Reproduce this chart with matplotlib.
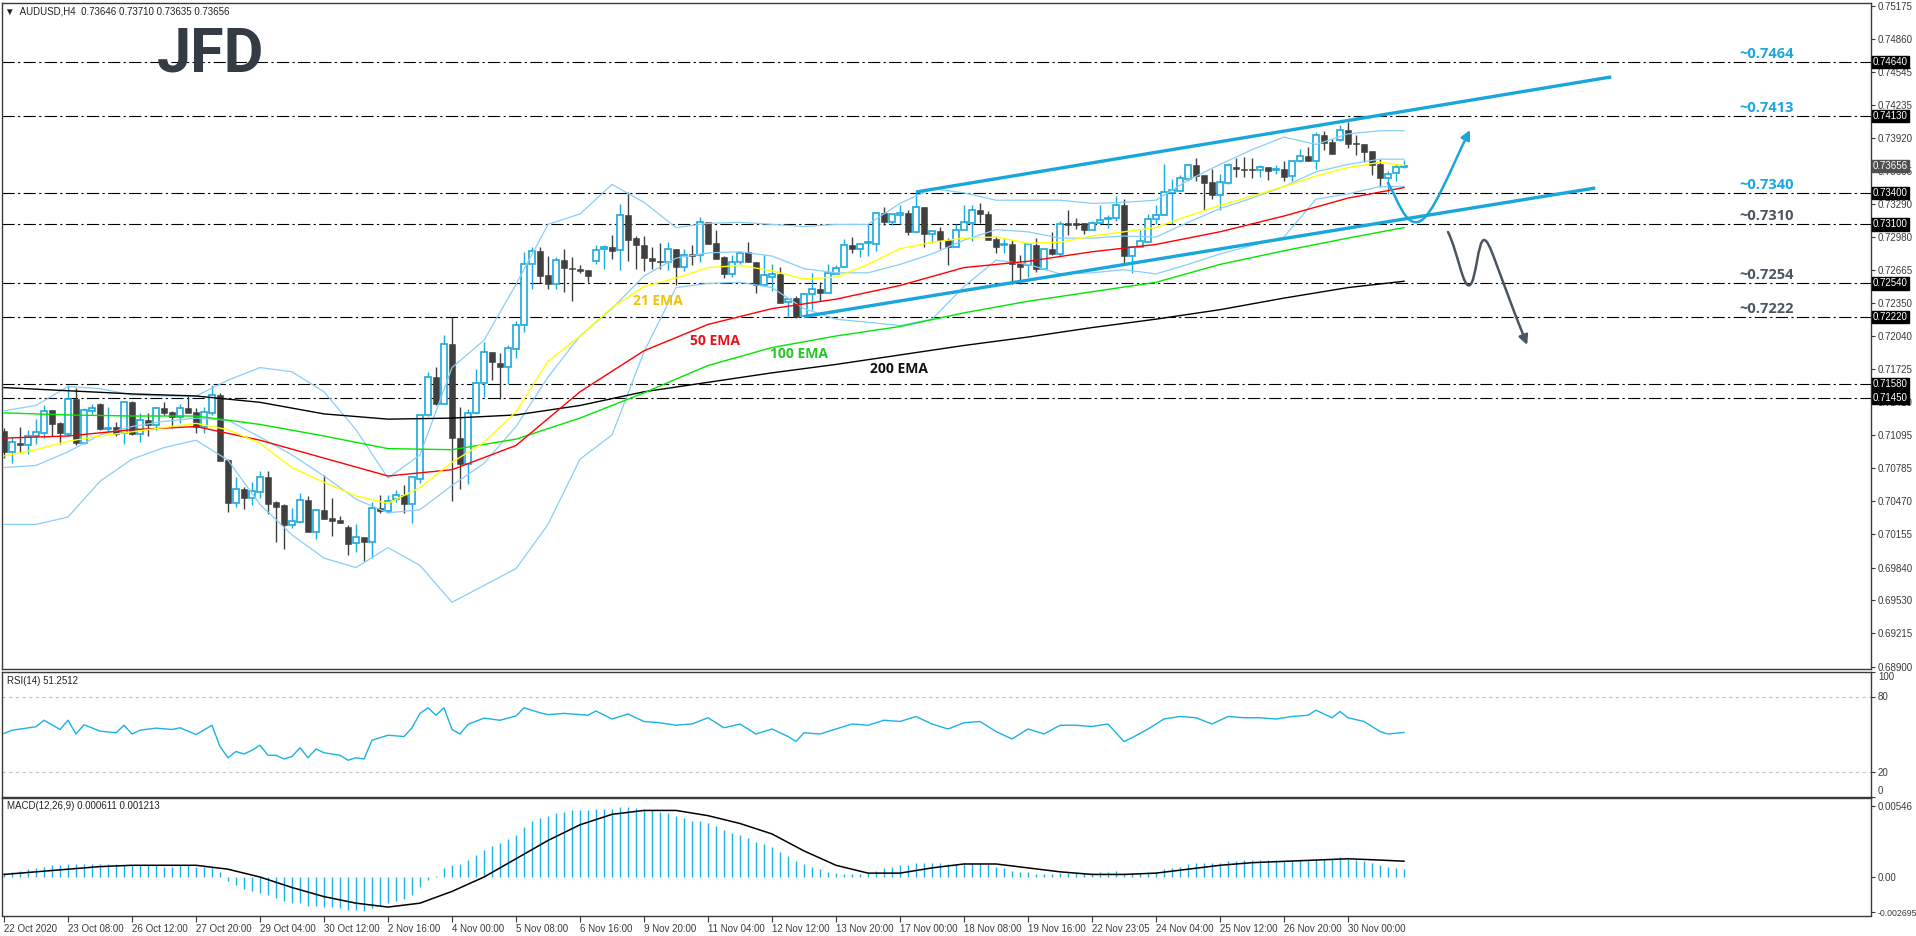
import matplotlib
matplotlib.use("Agg")
import matplotlib.pyplot as plt
from matplotlib.patches import Rectangle, FancyArrowPatch
from matplotlib.path import Path

plt.rcParams["font.family"] = ["Liberation Sans", "DejaVu Sans"]

W, H = 1916, 936

# ---- AUDUSD H4 candles (22 Oct - 30 Nov 2020) ----
opens = [0.7114, 0.7094, 0.7102, 0.7100, 0.7109, 0.7112, 0.7134, 0.7121, 0.7111, 0.7144,
         0.7102, 0.7133, 0.7139, 0.7116, 0.7118, 0.7112, 0.7141, 0.7111, 0.7124, 0.7119,
         0.7136, 0.7132, 0.7127, 0.7136, 0.7132, 0.7118, 0.7131, 0.7148, 0.7086, 0.7045,
         0.7059, 0.7050, 0.7056, 0.7070, 0.7046, 0.7043, 0.7024, 0.7027, 0.7048, 0.7018,
         0.7039, 0.7031, 0.7029, 0.7023, 0.7007, 0.7013, 0.7008, 0.7041, 0.7038, 0.7049,
         0.7053, 0.7044, 0.7068, 0.7129, 0.7165, 0.7139, 0.7196, 0.7107, 0.7082, 0.7131,
         0.7159, 0.7189, 0.7178, 0.7175, 0.7192, 0.7214, 0.7272, 0.7285, 0.7262, 0.7253,
         0.7276, 0.7269, 0.7268, 0.7267, 0.7275, 0.7287, 0.7289, 0.7286, 0.7319, 0.7297,
         0.7290, 0.7278, 0.7275, 0.7274, 0.7287, 0.7270, 0.7282, 0.7281, 0.7312, 0.7292,
         0.7279, 0.7263, 0.7274, 0.7284, 0.7274, 0.7252, 0.7260, 0.7263, 0.7236, 0.7240,
         0.7223, 0.7244, 0.7249, 0.7245, 0.7263, 0.7270, 0.7290, 0.7287, 0.7292, 0.7291,
         0.7321, 0.7312, 0.7319, 0.7321, 0.7303, 0.7327, 0.7301, 0.7304, 0.7295, 0.7289,
         0.7305, 0.7311, 0.7324, 0.7320, 0.7296, 0.7290, 0.7291, 0.7273, 0.7271, 0.7290,
         0.7268, 0.7287, 0.7282, 0.7311, 0.7311, 0.7311, 0.7305, 0.7311, 0.7315, 0.7316,
         0.7328, 0.7280, 0.7289, 0.7293, 0.7315, 0.7319, 0.7340, 0.7342, 0.7353, 0.7366,
         0.7357, 0.7350, 0.7338, 0.7349, 0.7365, 0.7363, 0.7363, 0.7362, 0.7365, 0.7362,
         0.7363, 0.7356, 0.7370, 0.7375, 0.7370, 0.7395, 0.7388, 0.7390, 0.7400, 0.7387,
         0.7386, 0.7380, 0.7367, 0.7354, 0.7359, 0.73646]
highs = [0.7117, 0.7108, 0.7118, 0.7115, 0.7125, 0.7138, 0.7134, 0.7122, 0.7157, 0.7155,
         0.7136, 0.7139, 0.7140, 0.7137, 0.7122, 0.7141, 0.7142, 0.7131, 0.7131, 0.7137,
         0.7141, 0.7133, 0.7139, 0.7147, 0.7136, 0.7137, 0.7157, 0.7150, 0.7087, 0.7070,
         0.7061, 0.7065, 0.7076, 0.7076, 0.7047, 0.7044, 0.7041, 0.7055, 0.7052, 0.7039,
         0.7072, 0.7050, 0.7033, 0.7024, 0.7025, 0.7013, 0.7046, 0.7053, 0.7053, 0.7058,
         0.7062, 0.7070, 0.7129, 0.7170, 0.7175, 0.7205, 0.7222, 0.7137, 0.7135, 0.7173,
         0.7198, 0.7189, 0.7188, 0.7195, 0.7218, 0.7284, 0.7289, 0.7289, 0.7280, 0.7279,
         0.7287, 0.7279, 0.7271, 0.7267, 0.7290, 0.7290, 0.7300, 0.7329, 0.7341, 0.7299,
         0.7299, 0.7289, 0.7292, 0.7293, 0.7287, 0.7287, 0.7290, 0.7317, 0.7312, 0.7305,
         0.7280, 0.7281, 0.7284, 0.7293, 0.7274, 0.7281, 0.7272, 0.7270, 0.7239, 0.7242,
         0.7245, 0.7264, 0.7255, 0.7272, 0.7271, 0.7296, 0.7298, 0.7291, 0.7310, 0.7321,
         0.7327, 0.7320, 0.7328, 0.7324, 0.7341, 0.7327, 0.7304, 0.7308, 0.7297, 0.7310,
         0.7328, 0.7328, 0.7330, 0.7323, 0.7299, 0.7297, 0.7295, 0.7281, 0.7291, 0.7297,
         0.7287, 0.7303, 0.7313, 0.7324, 0.7316, 0.7311, 0.7313, 0.7328, 0.7319, 0.7337,
         0.7334, 0.7289, 0.7305, 0.7320, 0.7328, 0.7367, 0.7353, 0.7357, 0.7366, 0.7373,
         0.7357, 0.7363, 0.7358, 0.7368, 0.7373, 0.7374, 0.7373, 0.7366, 0.7365, 0.7366,
         0.7370, 0.7370, 0.7382, 0.7384, 0.7398, 0.7399, 0.7391, 0.7404, 0.7407, 0.7395,
         0.7386, 0.7380, 0.7372, 0.7361, 0.7367, 0.73710]
lows = [0.7088, 0.7083, 0.7093, 0.7092, 0.7101, 0.7107, 0.7109, 0.7101, 0.7109, 0.7100,
        0.7101, 0.7130, 0.7115, 0.7113, 0.7109, 0.7101, 0.7110, 0.7103, 0.7109, 0.7115,
        0.7129, 0.7117, 0.7121, 0.7131, 0.7112, 0.7112, 0.7129, 0.7085, 0.7037, 0.7042,
        0.7040, 0.7043, 0.7050, 0.7035, 0.7008, 0.7002, 0.7022, 0.7026, 0.7018, 0.7011,
        0.7030, 0.7014, 0.7026, 0.6996, 0.6999, 0.6990, 0.6993, 0.7036, 0.7036, 0.7046,
        0.7036, 0.7026, 0.7064, 0.7128, 0.7138, 0.7139, 0.7047, 0.7059, 0.7063, 0.7130,
        0.7146, 0.7162, 0.7144, 0.7158, 0.7183, 0.7208, 0.7249, 0.7254, 0.7249, 0.7249,
        0.7246, 0.7237, 0.7264, 0.7255, 0.7272, 0.7268, 0.7277, 0.7267, 0.7275, 0.7268,
        0.7266, 0.7268, 0.7268, 0.7267, 0.7252, 0.7266, 0.7271, 0.7274, 0.7291, 0.7277,
        0.7259, 0.7260, 0.7272, 0.7274, 0.7245, 0.7252, 0.7247, 0.7235, 0.7222, 0.7221,
        0.7223, 0.7229, 0.7237, 0.7245, 0.7263, 0.7270, 0.7283, 0.7279, 0.7280, 0.7285,
        0.7309, 0.7309, 0.7310, 0.7300, 0.7302, 0.7289, 0.7292, 0.7287, 0.7271, 0.7289,
        0.7305, 0.7294, 0.7311, 0.7295, 0.7283, 0.7283, 0.7253, 0.7253, 0.7260, 0.7265,
        0.7267, 0.7281, 0.7280, 0.7300, 0.7306, 0.7301, 0.7305, 0.7310, 0.7307, 0.7313,
        0.7271, 0.7264, 0.7289, 0.7293, 0.7310, 0.7319, 0.7310, 0.7342, 0.7351, 0.7351,
        0.7324, 0.7334, 0.7324, 0.7348, 0.7355, 0.7355, 0.7354, 0.7355, 0.7352, 0.7358,
        0.7351, 0.7351, 0.7369, 0.7370, 0.7363, 0.7381, 0.7377, 0.7389, 0.7383, 0.7376,
        0.7369, 0.7357, 0.7346, 0.7339, 0.7351, 0.73635]
closes = [0.7094, 0.7103, 0.7100, 0.7109, 0.7113, 0.7133, 0.7120, 0.7112, 0.7144, 0.7102,
          0.7134, 0.7136, 0.7116, 0.7117, 0.7111, 0.7141, 0.7111, 0.7124, 0.7119, 0.7136,
          0.7131, 0.7127, 0.7136, 0.7131, 0.7118, 0.7132, 0.7148, 0.7085, 0.7045, 0.7059,
          0.7050, 0.7057, 0.7070, 0.7044, 0.7042, 0.7024, 0.7028, 0.7048, 0.7018, 0.7039,
          0.7030, 0.7028, 0.7026, 0.7006, 0.7013, 0.7008, 0.7041, 0.7038, 0.7047, 0.7053,
          0.7044, 0.7070, 0.7129, 0.7165, 0.7139, 0.7196, 0.7107, 0.7082, 0.7131, 0.7159,
          0.7189, 0.7179, 0.7175, 0.7193, 0.7214, 0.7272, 0.7285, 0.7261, 0.7253, 0.7276,
          0.7269, 0.7268, 0.7266, 0.7261, 0.7286, 0.7289, 0.7285, 0.7319, 0.7295, 0.7290,
          0.7278, 0.7275, 0.7274, 0.7287, 0.7270, 0.7281, 0.7280, 0.7312, 0.7291, 0.7277,
          0.7263, 0.7274, 0.7283, 0.7274, 0.7252, 0.7262, 0.7263, 0.7235, 0.7239, 0.7222,
          0.7244, 0.7249, 0.7245, 0.7264, 0.7269, 0.7290, 0.7287, 0.7291, 0.7293, 0.7321,
          0.7312, 0.7320, 0.7321, 0.7303, 0.7327, 0.7301, 0.7304, 0.7295, 0.7289, 0.7305,
          0.7312, 0.7324, 0.7320, 0.7295, 0.7289, 0.7291, 0.7272, 0.7270, 0.7291, 0.7268,
          0.7287, 0.7282, 0.7310, 0.7309, 0.7309, 0.7305, 0.7311, 0.7314, 0.7316, 0.7328,
          0.7280, 0.7289, 0.7294, 0.7315, 0.7319, 0.7341, 0.7343, 0.7354, 0.7366, 0.7356,
          0.7349, 0.7338, 0.7350, 0.7366, 0.7363, 0.7362, 0.7362, 0.7365, 0.7361, 0.7363,
          0.7355, 0.7370, 0.7375, 0.7370, 0.7395, 0.7387, 0.7377, 0.7400, 0.7386, 0.7386,
          0.7379, 0.7366, 0.7354, 0.7358, 0.7365, 0.73656]

# ---- moving averages, sampled every 8 bars ----
ema_bars = [0, 8, 16, 24, 32, 40, 48, 56, 64, 72, 80, 88, 96, 104, 112, 120, 128, 136,
            144, 152, 160, 168, 175]
ema200 = [0.7155, 0.7152, 0.7149, 0.7147, 0.7141, 0.7130, 0.7125, 0.7126, 0.7129, 0.7138,
          0.7151, 0.7160, 0.7169, 0.7177, 0.7186, 0.7195, 0.7203, 0.7212, 0.7220, 0.7229,
          0.7240, 0.7250, 0.7256]
ema100 = [0.7131, 0.7129, 0.7128, 0.7128, 0.7120, 0.7109, 0.7097, 0.7096, 0.7106, 0.7126,
          0.7150, 0.7176, 0.7193, 0.7204, 0.7213, 0.7226, 0.7237, 0.7246, 0.7255, 0.7272,
          0.7285, 0.7297, 0.7307]
ema50 = [0.7107, 0.7109, 0.7115, 0.7118, 0.7105, 0.7088, 0.7071, 0.7077, 0.7100, 0.7151,
         0.7190, 0.7215, 0.7230, 0.7239, 0.7252, 0.7269, 0.7275, 0.7284, 0.7291, 0.7303,
         0.7318, 0.7335, 0.7345]

# ---- 21 EMA and Bollinger bands, sampled every 4 bars ----
fine_bars = list(range(0, 173, 4)) + [175]
ema21 = [0.7090, 0.7096, 0.7104, 0.7109, 0.7113, 0.7117, 0.7121, 0.7115, 0.7102, 0.7079,
         0.7065, 0.7052, 0.7045, 0.7060, 0.7084, 0.7103, 0.7132, 0.7180, 0.7204, 0.7231,
         0.7251, 0.7259, 0.7269, 0.7271, 0.7266, 0.7258, 0.7260, 0.7272, 0.7287, 0.7293,
         0.7297, 0.7298, 0.7292, 0.7293, 0.7299, 0.7303, 0.7307, 0.7318, 0.7328, 0.7337,
         0.7346, 0.7356, 0.7364, 0.7369, 0.7366]
bb_upper = [0.7133, 0.7138, 0.7156, 0.7154, 0.7148, 0.7147, 0.7147, 0.7162, 0.7174, 0.7170,
            0.7151, 0.7115, 0.7069, 0.7091, 0.7174, 0.7200, 0.7253, 0.7310, 0.7320, 0.7348,
            0.7331, 0.7307, 0.7311, 0.7312, 0.7310, 0.7308, 0.7310, 0.7310, 0.7330, 0.7344,
            0.7340, 0.7333, 0.7333, 0.7333, 0.7330, 0.7331, 0.7333, 0.7352, 0.7367, 0.7381,
            0.7393, 0.7386, 0.7396, 0.7399, 0.7399]
bb_mid = [0.7079, 0.7081, 0.7094, 0.7110, 0.7118, 0.7123, 0.7126, 0.7124, 0.7108, 0.7091,
          0.7071, 0.7049, 0.7036, 0.7039, 0.7062, 0.7083, 0.7118, 0.7165, 0.7204, 0.7230,
          0.7261, 0.7278, 0.7283, 0.7284, 0.7280, 0.7268, 0.7264, 0.7264, 0.7272, 0.7282,
          0.7295, 0.7305, 0.7303, 0.7297, 0.7297, 0.7299, 0.7298, 0.7312, 0.7325, 0.7335,
          0.7346, 0.7360, 0.7367, 0.7372, 0.7372]
bb_lower = [0.7025, 0.7025, 0.7032, 0.7066, 0.7087, 0.7098, 0.7105, 0.7086, 0.7044, 0.7015,
            0.6993, 0.6984, 0.7003, 0.6986, 0.6951, 0.6967, 0.6983, 0.7025, 0.7087, 0.7110,
            0.7189, 0.7250, 0.7254, 0.7255, 0.7250, 0.7230, 0.7220, 0.7217, 0.7214, 0.7220,
            0.7251, 0.7276, 0.7272, 0.7263, 0.7264, 0.7267, 0.7263, 0.7272, 0.7282, 0.7290,
            0.7298, 0.7334, 0.7339, 0.7346, 0.7346]

# ---- RSI(14) ----
rsi_bars = [0, 1, 4, 5, 7, 8, 9, 10, 12, 14, 15, 16, 17, 19, 21, 22, 24, 26, 27, 28,
            29, 30, 31, 32, 33, 34, 35, 36, 37, 38, 39, 40, 41, 42, 43, 44, 45, 46, 48, 50,
            51, 52, 53, 54, 55, 56, 57, 58, 60, 62, 64, 65, 67, 68, 70, 73, 74, 76, 78, 80,
            82, 84, 86, 88, 90, 92, 94, 96, 98, 99, 100, 102, 104, 106, 108, 110, 112, 114, 116, 118,
            120, 122, 124, 126, 128, 130, 132, 134, 136, 138, 140, 141, 143, 145, 147, 149, 151, 153, 155, 157,
            159, 161, 163, 164, 166, 167, 168, 170, 172, 173, 175]
rsi_vals = [50.4, 53, 55.8, 61, 53.6, 61, 50, 57.4, 52.3, 51, 57, 50, 53, 54.7, 53.6, 55, 49.6, 57, 40, 31,
            36, 34, 37, 41, 33, 33, 30, 32, 39, 31, 38, 35, 34, 33, 29, 31, 30, 45, 49, 48,
            55, 66.5, 71, 65, 71, 53.6, 50, 57.7, 62.7, 61, 64.4, 71, 67, 65.5, 66.5, 65, 68.4, 62, 66, 60,
            59, 57, 58, 63, 55, 58, 50, 54, 48, 44, 51, 50, 54, 58, 57, 61, 60, 64, 58, 54,
            59, 60, 52, 46, 54, 50, 57, 57, 56, 58, 44, 47, 54, 62, 64, 63, 58, 64, 63, 63,
            62, 64, 65, 69, 63, 68, 63, 60, 52, 50, 51.25]

# ---- MACD(12,26,9) ----
macd_main = [0.0003, 0.0004, 0.0005, 0.0006, 0.0007, 0.0008, 0.0009, 0.0009, 0.0010, 0.0010,
             0.0010, 0.0010, 0.0010, 0.0010, 0.0010, 0.0009, 0.0009, 0.0009, 0.0009, 0.0009,
             0.0008, 0.0008, 0.0009, 0.0009, 0.0008, 0.0008, 0.0008, 0.0004, -0.0003, -0.0006,
             -0.0009, -0.0011, -0.0012, -0.0014, -0.0016, -0.0018, -0.0020, -0.0020, -0.0022, -0.0022,
             -0.0023, -0.0023, -0.0024, -0.0025, -0.0025, -0.0026, -0.0024, -0.0022, -0.0020, -0.0018,
             -0.0017, -0.0014, -0.0008, -0.0002, 0.0001, 0.0007, 0.0009, 0.0010, 0.0013, 0.0017,
             0.0021, 0.0024, 0.0026, 0.0029, 0.0032, 0.0038, 0.0043, 0.0045, 0.0047, 0.0049,
             0.0050, 0.0051, 0.0051, 0.0051, 0.0052, 0.0052, 0.0052, 0.0054, 0.0054, 0.0053,
             0.0052, 0.0051, 0.0050, 0.0049, 0.0047, 0.0045, 0.0043, 0.0043, 0.0041, 0.0039,
             0.0036, 0.0034, 0.0032, 0.0030, 0.0027, 0.0025, 0.0023, 0.0019, 0.0016, 0.0012,
             0.0010, 0.0008, 0.0006, 0.0004, 0.0003, 0.0002, 0.0002, 0.0002, 0.0003, 0.0005,
             0.0007, 0.0008, 0.0009, 0.0009, 0.0011, 0.0011, 0.0011, 0.0011, 0.0010, 0.0010,
             0.0011, 0.0011, 0.0011, 0.0010, 0.0008, 0.0007, 0.0005, 0.0004, 0.0004, 0.0002,
             0.0002, 0.0002, 0.0003, 0.0003, 0.0003, 0.0003, 0.0003, 0.0004, 0.0004, 0.0005,
             0.0003, 0.0003, 0.0003, 0.0004, 0.0004, 0.0006, 0.0007, 0.0008, 0.0010, 0.0011,
             0.0011, 0.0011, 0.0011, 0.0012, 0.0012, 0.0013, 0.0013, 0.0013, 0.0013, 0.0013,
             0.0012, 0.0012, 0.0013, 0.0013, 0.0014, 0.0014, 0.0014, 0.0015, 0.0014, 0.0013,
             0.0012, 0.0011, 0.0009, 0.0008, 0.0007, 0.000611]
macd_signal = [0.0002, 0.0004, 0.0006, 0.0008, 0.0009, 0.0009, 0.0009, 0.0006, 0.0000, -0.0008,
               -0.0015, -0.0020, -0.0023, -0.0020, -0.0011, 0.0000, 0.0014, 0.0028, 0.0040, 0.0048,
               0.0051, 0.0051, 0.0047, 0.0041, 0.0033, 0.0020, 0.0009, 0.0003, 0.0003, 0.0007,
               0.0010, 0.0010, 0.0007, 0.0004, 0.0002, 0.0002, 0.0003, 0.0006, 0.0009, 0.0011,
               0.0012, 0.0013, 0.0014, 0.0013, 0.001213]

# ---- horizontal levels and axis labels ----
levels = [0.7464, 0.7413, 0.7340, 0.7310, 0.7254, 0.7222, 0.7158, 0.7145]
level_texts = ["~0.7464", "~0.7413", "~0.7340", "~0.7310", "~0.7254", "~0.7222"]
level_colors = ["#1ba6dc", "#1ba6dc", "#1ba6dc", "#4b5561", "#4b5561", "#4b5561"]
price_ticks = [0.75175, 0.74860, 0.74545, 0.74235, 0.73920, 0.73605, 0.73290, 0.72980,
               0.72665, 0.72350, 0.72040, 0.71725, 0.71410, 0.71095, 0.70785, 0.70470,
               0.70155, 0.69840, 0.69530, 0.69215, 0.68900]
date_labels = ["22 Oct 2020", "23 Oct 08:00", "26 Oct 12:00", "27 Oct 20:00", "29 Oct 04:00",
               "30 Oct 12:00", "2 Nov 16:00", "4 Nov 00:00", "5 Nov 08:00", "6 Nov 16:00",
               "9 Nov 20:00", "11 Nov 04:00", "12 Nov 12:00", "13 Nov 20:00", "17 Nov 00:00",
               "18 Nov 08:00", "19 Nov 16:00", "22 Nov 23:05", "24 Nov 04:00", "25 Nov 12:00",
               "26 Nov 20:00", "30 Nov 00:00"]
last_price = 0.73656

BULL = "#19a9dc"
BEAR = "#3f3f3f"
FRAME = "#3a3a3a"
TXT = "#3a3a3a"


def px_box(left, top, right, bottom):
    return [left / W, 1 - bottom / H, (right - left) / W, (bottom - top) / H]


fig = plt.figure(figsize=(W / 100, H / 100), dpi=100)
ax = fig.add_axes(px_box(2, 3, 1871, 669))
ax_rsi = fig.add_axes(px_box(2, 671.5, 1871, 796.5), sharex=ax)
ax_macd = fig.add_axes(px_box(2, 798, 1871, 915.5), sharex=ax)

ax.set_xlim(-0.25, 233.375)
ax.set_ylim(0.688765, 0.752035)

# candles
for i, (o, h, l, c) in enumerate(zip(opens, highs, lows, closes)):
    top, bot = max(o, c), min(o, c)
    if c >= o:
        ax.vlines(i, l, bot, color=BULL, lw=1.0, zorder=3)
        ax.vlines(i, top, h, color=BULL, lw=1.0, zorder=3)
        ax.add_patch(Rectangle((i - 0.32, bot), 0.64, max(top - bot, 0.00004),
                               fc="white", ec=BULL, lw=1.2, zorder=4))
    else:
        ax.vlines(i, l, h, color=BEAR, lw=1.0, zorder=3)
        ax.add_patch(Rectangle((i - 0.38, bot), 0.76, max(top - bot, 0.00006),
                               fc=BEAR, ec=BEAR, lw=0.4, zorder=4))

# indicators
ax.plot(fine_bars, bb_upper, color="#87cefa", lw=0.9, zorder=5)
ax.plot(fine_bars, bb_mid, color="#87cefa", lw=0.9, zorder=5)
ax.plot(fine_bars, bb_lower, color="#87cefa", lw=0.9, zorder=5)
ax.plot(ema_bars, ema200, color="black", lw=1.0, zorder=5)
ax.plot(ema_bars, ema100, color="#00e600", lw=1.0, zorder=5)
ax.plot(ema_bars, ema50, color="#ff0000", lw=1.0, zorder=5)
ax.plot(fine_bars, ema21, color="#ffff00", lw=1.0, zorder=5)

# levels
for lv in levels:
    ax.axhline(lv, color="black", lw=0.8, ls=(0, (11, 3, 2, 3)), zorder=2)
for lv, t, col in zip(levels, level_texts, level_colors):
    ax.text(220.3, lv + 0.00012, t, ha="center", va="bottom", fontsize=10.5,
            fontweight="bold", color=col, family=["Open Sans", "DejaVu Sans"], zorder=6)

# channel
ax.plot([114, 200.9], [0.73408, 0.74501], color="#19a6dc", lw=2.4, zorder=6,
        solid_capstyle="butt")
ax.plot([100, 198.9], [0.72225, 0.73446], color="#19a6dc", lw=2.4, zorder=6,
        solid_capstyle="butt")

# scenario arrows
blue_path = Path([(173.0, 0.73494), (174.25, 0.73332), (175.1, 0.73095), (176.75, 0.73123),
                  (178.5, 0.73152), (180.75, 0.73617), (183.25, 0.73997)],
                 [Path.MOVETO, Path.CURVE4, Path.CURVE4, Path.CURVE4,
                  Path.CURVE4, Path.CURVE4, Path.CURVE4])
ax.add_patch(FancyArrowPatch(path=blue_path, arrowstyle="-|>", mutation_scale=14,
                             color="#19a6dc", lw=1.8, zorder=7))
gray_path = Path([(180.5, 0.73028), (181.75, 0.72838), (182.4, 0.72477), (183.25, 0.72525),
                  (184.0, 0.72563), (184.25, 0.72952), (185.0, 0.72952),
                  (185.75, 0.72952), (186.4, 0.72715), (190.4, 0.71955)],
                 [Path.MOVETO, Path.CURVE4, Path.CURVE4, Path.CURVE4,
                  Path.CURVE4, Path.CURVE4, Path.CURVE4,
                  Path.CURVE4, Path.CURVE4, Path.CURVE4])
ax.add_patch(FancyArrowPatch(path=gray_path, arrowstyle="-|>", mutation_scale=14,
                             color="#4b5561", lw=1.8, zorder=7))

# EMA labels
ema_font = dict(fontsize=10, fontweight="bold", family=["Open Sans", "DejaVu Sans"],
                va="center", ha="left", zorder=7)
ax.text(78.6, 0.7237, "21 EMA", color="#f2c400", **ema_font)
ax.text(85.8, 0.7199, "50 EMA", color="#e8101a", **ema_font)
ax.text(95.8, 0.7187, "100 EMA", color="#22c922", **ema_font)
ax.text(108.3, 0.7173, "200 EMA", color="#111111", **ema_font)

# price axis
ax.yaxis.tick_right()
ax.set_yticks(price_ticks)
ax.set_yticklabels([f"{v:.5f}" for v in price_ticks])
ax.tick_params(axis="y", length=3, width=0.8, colors=TXT, labelsize=7, pad=2)
ax.tick_params(axis="x", bottom=False, labelbottom=False)
box_kw = dict(transform=ax.get_yaxis_transform(), ha="left", va="center", fontsize=7,
              color="white", clip_on=False, zorder=10)
for lv in levels:
    ax.text(1.0009, lv, f"{lv:.5f}", bbox=dict(boxstyle="square,pad=0.12", fc="black",
                                                  ec="black"), **box_kw)
ax.text(1.0009, last_price, f"{last_price:.5f}",
        bbox=dict(boxstyle="square,pad=0.12", fc="#505050", ec="#505050"), **box_kw)

# RSI panel
ax_rsi.set_ylim(0, 100)
ax_rsi.plot(rsi_bars, rsi_vals, color="#1ab2e4", lw=1.0)
for lv in (80, 20):
    ax_rsi.axhline(lv, color="#c4c4c4", lw=0.8, ls=(0, (3, 3)))
ax_rsi.yaxis.tick_right()
ax_rsi.set_yticks([100, 80, 20, 0])
ax_rsi.set_yticklabels(["100", "80", "20", "0"])
ax_rsi.tick_params(axis="y", length=3, width=0.8, colors=TXT, labelsize=7, pad=2)
ax_rsi.tick_params(axis="x", bottom=False, labelbottom=False)
rl = ax_rsi.get_yticklabels()
rl[0].set_va("top")
rl[-1].set_va("bottom")
ax_rsi.text(0.0027, 0.924, "RSI(14) 51.2512", transform=ax_rsi.transAxes, fontsize=7,
            color="#222222", va="center")

# MACD panel
ax_macd.set_ylim(-0.002945, 0.006052)
ax_macd.vlines(range(len(macd_main)), 0, macd_main, color="#1ab2e4", lw=1.0)
ax_macd.plot(fine_bars, macd_signal, color="black", lw=1.1)
ax_macd.yaxis.tick_right()
ax_macd.set_yticks([0.00546, 0.0, -0.002695])
ax_macd.set_yticklabels(["0.00546", "0.00", "-0.002695"])
ax_macd.tick_params(axis="y", length=3, width=0.8, colors=TXT, labelsize=7, pad=1.5)
ax_macd.get_yticklabels()[-1].set_fontsize(6.3)
ax_macd.text(0.0027, 0.932, "MACD(12,26,9) 0.000611 0.001213", transform=ax_macd.transAxes,
             fontsize=7, color="#222222", va="center")
ax_macd.set_xticks(range(0, 8 * len(date_labels), 8))
ax_macd.set_xticklabels(date_labels, ha="left")
ax_macd.tick_params(axis="x", length=4, width=0.8, colors=TXT, labelsize=7, pad=2)

for a in (ax, ax_rsi, ax_macd):
    for s in a.spines.values():
        s.set_color(FRAME)
        s.set_linewidth(1.0)

# header and logo
fig.text(5 / W, 1 - 11 / H, "\u25bc  AUDUSD,H4  0.73646 0.73710 0.73635 0.73656",
         fontsize=7, color="#222222", va="center")
fig.text(157 / W, 1 - 72 / H, "JFD", fontsize=44, fontweight="bold",
         family=["Roboto", "DejaVu Sans"], color="#343b45", va="baseline")

fig.savefig("out.png", dpi=100)
